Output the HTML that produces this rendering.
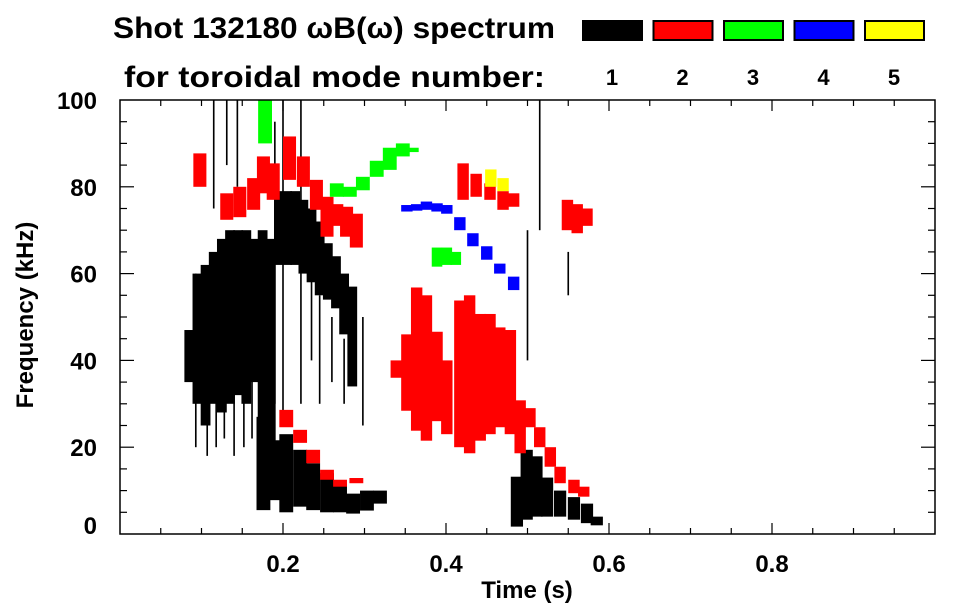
<!DOCTYPE html>
<html><head><meta charset="utf-8"><style>
html,body{margin:0;padding:0;background:#fff;}
svg{display:block;font-family:"Liberation Sans",sans-serif;font-weight:bold;}
</style></head><body>
<svg id="chart" width="963" height="615" viewBox="0 0 963 615" xmlns="http://www.w3.org/2000/svg">
<text x="113" y="38" font-size="30" textLength="442" lengthAdjust="spacingAndGlyphs">Shot 132180 ωB(ω) spectrum</text>
<text x="124" y="87" font-size="30" textLength="421" lengthAdjust="spacingAndGlyphs">for toroidal mode number:</text>
<g id="legend"></g>
<g id="marks"></g>
<g id="axes"></g>
<text x="527" y="598" font-size="24" text-anchor="middle">Time (s)</text>
<text transform="translate(33,315) rotate(-90)" font-size="24" text-anchor="middle">Frequency (kHz)</text>
</svg>
<script>
const modeColors = ["#000000","#ff0000","#00ff00","#0000ff","#ffff00"];
const modeLabels = ["1","2","3","4","5"];
const xTicks = [0.2,0.4,0.6,0.8];
const xTickLabels = ["0.2","0.4","0.6","0.8"];
const yTicks = [0,20,40,60,80,100];
const yTickLabels = ["0","20","40","60","80","100"];
// features: [time(s), fLow(kHz), fHigh(kHz)]
const blackMain = [[0.085,35,47],[0.095,30,60],[0.105,25,62],[0.115,30,65],[0.125,28,68],[0.135,30,70],[0.145,32,70],[0.155,30,70],[0.165,35,68],[0.175,25,70],[0.185,20,68],[0.195,62,79],[0.205,62,79],[0.215,62,79],[0.225,60,77],[0.235,58,75],[0.245,55,72],[0.255,54,67],[0.265,52,64],[0.275,46,60],[0.285,34,57]];
const blackLow = [[0.176,5.5,27],[0.188,7.8,21.6],[0.204,5,23],[0.221,6.3,19.4],[0.237,5.5,16.3],[0.254,5,14],[0.270,5,11.6],[0.286,4.7,9.3],[0.303,5.4,10],[0.319,7,10]];
const blackRight = [[0.487,1.7,13.2],[0.499,3.3,19.4],[0.511,4,17.9],[0.524,4,13],[0.540,4,10],[0.557,3.3,8.5],[0.573,2.5,7],[0.585,2,4]];
const blackStripes = [[0.093,20,60],[0.107,18,55],[0.118,20,50],[0.128,22,55],[0.14,18,50],[0.152,20,55],[0.162,22,60],[0.172,26,60],[0.19,30,95],[0.2,25,100],[0.222,30,100],[0.235,40,62],[0.245,30,55],[0.26,35,50],[0.275,30,45],[0.298,25,50],[0.131,85,100],[0.115,75,100],[0.144,80,100],[0.515,70,100],[0.5,40,70],[0.55,55,65]];
const redUpperLeft = [[0.098,80,87.7],[0.131,72.4,78.5],[0.147,73,80],[0.164,74.7,82],[0.176,78.5,87],[0.188,77,85.4],[0.208,81.6,91.6],[0.225,80,87],[0.241,74.7,81.6],[0.254,68.5,77.7],[0.266,71,76],[0.278,68.5,75.4],[0.290,66,73.8]];
const redBlob = [[0.339,36,40],[0.352,28.4,46],[0.364,23.8,56.8],[0.376,21.5,55],[0.389,26,46.6],[0.401,23,40],[0.417,20,53.8],[0.429,18.6,55],[0.442,21.5,50.7],[0.454,23,50.7],[0.466,24.6,47.6],[0.479,23,47],[0.491,18.6,30.8]];
const redRightLine = [[0.503,24.6,29],[0.515,20,24.6],[0.528,15.5,20],[0.540,11.7,15.5],[0.557,9.4,12.5],[0.569,8.6,10.9]];
const redLowerLeft = [[0.204,24.6,28.6],[0.221,21,24],[0.237,16.3,19.4],[0.254,12.5,14.8],[0.270,10.9,12.5],[0.290,11.7,12.9]];
const redUpperRight = [[0.421,77,85.4],[0.437,77.7,83],[0.454,77,80.8],[0.470,74.7,79],[0.483,75.4,78.5],[0.549,70,77],[0.561,69.3,76],[0.573,71,75]];
const greenUpper = [[0.266,77.7,80.8],[0.282,77.7,80],[0.298,79.2,82.3],[0.315,82.3,86],[0.331,83.9,89],[0.347,87,90],[0.358,88,89],[0.178,90,100]];
const greenMid = [[0.389,61.6,66],[0.401,62,66],[0.412,62,65]];
const blueLine = [[0.352,74.3,75.8],[0.364,74.5,76],[0.376,74.7,76.6],[0.389,74.3,76.2],[0.401,73.8,75.8],[0.417,70,73],[0.433,66.3,69.3],[0.450,63.2,66.3],[0.466,60,62.3],[0.483,56.2,59.3]];
const yellowPatch = [[0.455,80,84],[0.470,79,82]];

const X0=120,X1=935,Y0=534,Y1=100;
const xScale = t => X0 + t*(X1-X0);
const yScale = f => Y0 - f/100*(Y0-Y1);
const NS="http://www.w3.org/2000/svg";
const marks=document.getElementById('marks');
function drawSeries(arr,color,w,name){
  arr.forEach(d=>{
    const r=document.createElementNS(NS,'rect');
    r.setAttribute('x',xScale(d[0]-w/2));
    r.setAttribute('width',xScale(w)-X0);
    r.setAttribute('y',yScale(d[2]));
    r.setAttribute('height',yScale(d[1])-yScale(d[2]));
    r.setAttribute('fill',color);
    
    
    marks.appendChild(r);
  });
}
drawSeries(blackStripes,modeColors[0],0.002,'mode1-stripe');
drawSeries(blackMain,modeColors[0],0.012,'mode1-cell');
drawSeries(blackLow,modeColors[0],0.017,'mode1-cell');
drawSeries(blackRight,modeColors[0],0.015,'mode1-cell');
drawSeries(redUpperLeft,modeColors[1],0.016,'mode2-cell');
drawSeries(redBlob,modeColors[1],0.014,'mode2-cell');
drawSeries(redRightLine,modeColors[1],0.014,'mode2-cell');
drawSeries(redLowerLeft,modeColors[1],0.017,'mode2-cell');
drawSeries(redUpperRight,modeColors[1],0.014,'mode2-cell');
drawSeries(greenUpper,modeColors[2],0.017,'mode3-cell');
drawSeries(greenMid,modeColors[2],0.013,'mode3-cell');
drawSeries(blueLine,modeColors[3],0.014,'mode4-cell');
drawSeries(yellowPatch,modeColors[4],0.014,'mode5-cell');

// legend
const leg=document.getElementById('legend');
modeColors.forEach((c,i)=>{
  const x=582+i*70.5;
  const r=document.createElementNS(NS,'rect');
  r.setAttribute('x',x+1);r.setAttribute('y',21);r.setAttribute('width',59);r.setAttribute('height',19);
  r.setAttribute('fill',c);r.setAttribute('stroke','#000');r.setAttribute('stroke-width','2');
  
  
  leg.appendChild(r);
  const t=document.createElementNS(NS,'text');
  t.setAttribute('x',x+30);t.setAttribute('y',85);t.setAttribute('font-size','22');t.setAttribute('text-anchor','middle');
  t.textContent=modeLabels[i];
  
  
  leg.appendChild(t);
});

// axes
const ax=document.getElementById('axes');
function line(x1,y1,x2,y2,name){
  const l=document.createElementNS(NS,'line');
  l.setAttribute('x1',x1);l.setAttribute('y1',y1);l.setAttribute('x2',x2);l.setAttribute('y2',y2);
  l.setAttribute('stroke','#000');l.setAttribute('stroke-width','1.2');
  
  
  ax.appendChild(l);
}
const box=document.createElementNS(NS,'rect');
box.setAttribute('x',X0);box.setAttribute('y',Y1);box.setAttribute('width',X1-X0);box.setAttribute('height',Y0-Y1);
box.setAttribute('fill','none');box.setAttribute('stroke','#000');box.setAttribute('stroke-width','1.5');


ax.appendChild(box);
for(let i=1;i<20;i++){
  const t=i*0.05, x=xScale(t), major=(i%4===0);
  const len=major?11:6;
  line(x,Y0,x,Y0-len,'x-tick');
  line(x,Y1,x,Y1+len,'x-tick');
}
for(let i=1;i<20;i++){
  const f=i*5, y=yScale(f), major=(i%4===0);
  const len=major?14:7;
  line(X0,y,X0+len,y,'y-tick');
  line(X1,y,X1-len,y,'y-tick');
}
xTicks.forEach((v,i)=>{
  const t=document.createElementNS(NS,'text');
  t.setAttribute('x',xScale(v));t.setAttribute('y',572);t.setAttribute('font-size','24');t.setAttribute('text-anchor','middle');
  t.textContent=xTickLabels[i];
  
  
  ax.appendChild(t);
});
yTicks.forEach((v,i)=>{
  const t=document.createElementNS(NS,'text');
  t.setAttribute('x',97);t.setAttribute('y',yScale(v)+(v===0?0:9));t.setAttribute('font-size','24');t.setAttribute('text-anchor','end');
  t.textContent=yTickLabels[i];
  
  
  ax.appendChild(t);
});
</script>
</body></html>
